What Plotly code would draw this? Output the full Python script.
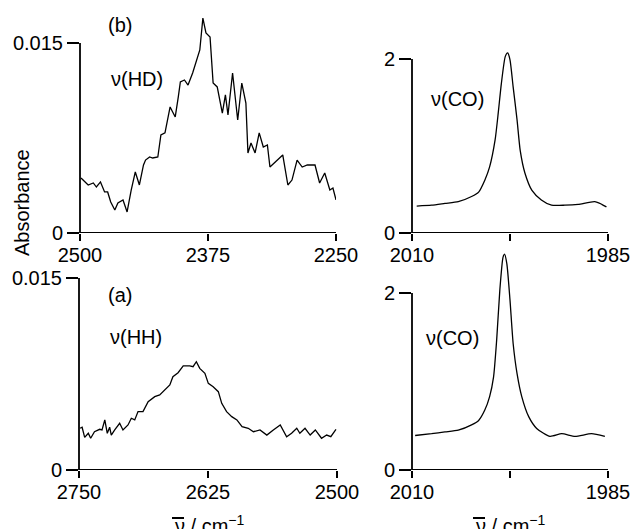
import plotly.graph_objects as go

# ---------------- data ----------------
# (b) nu(HD) spectrum, top-left
hd_wn = [2499, 2497, 2492, 2487, 2484, 2480, 2476, 2473, 2470, 2466, 2463, 2458, 2454,
         2450, 2446, 2442, 2438, 2436, 2432, 2429, 2424, 2421, 2417, 2412, 2407, 2404,
         2402, 2398, 2394.5, 2390, 2387, 2383, 2380, 2377, 2373, 2370, 2366, 2361, 2358,
         2355.5, 2351, 2346, 2342, 2338, 2336, 2333, 2329, 2325, 2321, 2317, 2314.5,
         2310, 2302, 2297, 2293, 2288, 2283, 2278, 2273, 2270.5, 2266, 2261, 2256, 2253, 2250]
hd_abs = [0.00434, 0.00418, 0.00379, 0.00395, 0.00363, 0.00403, 0.00324, 0.00324, 0.00245,
          0.00182, 0.00237, 0.00261, 0.00166, 0.00339, 0.00482, 0.00379, 0.00537, 0.00576,
          0.00600, 0.00592, 0.00600, 0.00774, 0.00790, 0.00995, 0.00916, 0.01074, 0.01192,
          0.01208, 0.01168, 0.01263, 0.01342, 0.01445, 0.01697, 0.01579, 0.01547, 0.01184,
          0.01153, 0.00947, 0.01090, 0.00932, 0.01263, 0.00892, 0.01184, 0.01026, 0.00632,
          0.00711, 0.00632, 0.00790, 0.00679, 0.00695, 0.00521, 0.00553, 0.00616, 0.00379,
          0.00418, 0.00576, 0.00521, 0.00537, 0.00537, 0.00537, 0.00395, 0.00474, 0.00339,
          0.00355, 0.00261]

# (a) nu(HH) spectrum, bottom-left
hh_wn = [2749, 2747, 2744.5, 2741, 2738.7, 2735, 2730, 2727.7, 2725, 2722.6, 2720.3, 2718.7,
         2715.4, 2710.6, 2707.4, 2702.5, 2699.3, 2696, 2692.8, 2688, 2683, 2676.6, 2671.8,
         2667, 2662, 2659, 2654, 2649, 2642.7, 2639.5, 2636.3, 2633, 2628, 2624.7, 2620,
         2615, 2611.7, 2607, 2602, 2597, 2592, 2586, 2581, 2574.6, 2568, 2561.7, 2555,
         2548.8, 2544, 2539, 2536, 2531, 2526, 2521, 2515, 2510, 2506, 2501]
hh_abs = [0.00326, 0.00334, 0.00255, 0.00287, 0.00248, 0.00299, 0.00318, 0.00313, 0.00391,
          0.00287, 0.00334, 0.00273, 0.00313, 0.00365, 0.00313, 0.00352, 0.00404, 0.00391,
          0.00456, 0.00456, 0.00534, 0.00573, 0.00586, 0.00625, 0.00664, 0.00729, 0.00760,
          0.00813, 0.00813, 0.00807, 0.00846, 0.00794, 0.00755, 0.00677, 0.00651, 0.00612,
          0.00521, 0.00456, 0.00417, 0.00391, 0.00339, 0.00326, 0.00299, 0.00313, 0.00273,
          0.00313, 0.00352, 0.00260, 0.00287, 0.00326, 0.00287, 0.00326, 0.00273, 0.00313,
          0.00248, 0.00273, 0.00260, 0.00318]

# nu(CO) spectra, right column (top = b, bottom = a)
co_b_wn = [2009.4, 2007.5, 2005.8, 2004.1, 2002.4, 2001.5, 2000.7, 2000.1, 1999.4, 1999.0,
           1998.6, 1998.1, 1997.8, 1997.5, 1997.1, 1996.6, 1996.2, 1995.6, 1994.7, 1993.5,
           1992.2, 1990.5, 1988.8, 1986.7, 1985.8, 1985.2]
co_b_abs = [0.31, 0.32, 0.34, 0.36, 0.42, 0.47, 0.61, 0.76, 1.07, 1.38, 1.72, 2.03, 2.07,
            1.99, 1.68, 1.30, 0.95, 0.69, 0.49, 0.38, 0.32, 0.32, 0.33, 0.36, 0.33, 0.30]

co_a_wn = [2009.6, 2007.5, 2005.8, 2004.1, 2002.4, 2001.5, 2000.7, 2000.1, 1999.6, 1999.2,
           1998.8, 1998.4, 1998.2, 1997.9, 1997.5, 1997.1, 1996.6, 1996.0, 1995.1, 1994.1,
           1992.4, 1990.9, 1989.2, 1987.1, 1985.4]
co_a_abs = [0.39, 0.41, 0.43, 0.45, 0.51, 0.56, 0.68, 0.83, 1.05, 1.47, 2.03, 2.40, 2.44,
            2.33, 1.92, 1.43, 1.09, 0.83, 0.60, 0.47, 0.38, 0.41, 0.38, 0.41, 0.38]

# ticks
hd_xticks = [2500, 2375, 2250]
hh_xticks = [2750, 2625, 2500]
co_xticks = [2010, 1997.5, 1985]
co_xticktext = ["2010", " ", "1985"]
ir_yticks = [0, 0.015]
ir_yticktext = ["0", "0.015"]
co_yticks = [0, 2]
co_yticktext = ["0", "2"]

W, H = 635, 529
FONT = "Liberation Sans, Arial, Helvetica, sans-serif"


def px_x(a, b):
    return [a / W, b / W]


def px_y(top, bottom):
    return [1 - bottom / H, 1 - top / H]


fig = go.Figure()

panels = [
    ("x", "y", hd_wn, hd_abs, hd_xticks, [str(v) for v in hd_xticks], ir_yticks, ir_yticktext,
     px_x(80, 336), px_y(10, 233), 0.015 * 223 / 190, "linear"),
    ("x2", "y2", co_b_wn, co_b_abs, co_xticks, co_xticktext, co_yticks, co_yticktext,
     px_x(412, 608), px_y(10, 233), 2 * 223 / 174, "spline"),
    ("x3", "y3", hh_wn, hh_abs, hh_xticks, [str(v) for v in hh_xticks], ir_yticks, ir_yticktext,
     px_x(79, 337), px_y(250, 470), 0.015 * 220 / 192, "linear"),
    ("x4", "y4", co_a_wn, co_a_abs, co_xticks, co_xticktext, co_yticks, co_yticktext,
     px_x(412, 608), px_y(250, 470), 2 * 220 / 177, "spline"),
]

shapes = []
for i, (xa, ya, wn, ab, xt, xtt, yt, ytt, xdom, ydom, ymax, lshape) in enumerate(panels):
    line = dict(color="black", width=1.3, shape=lshape)
    if lshape == "spline":
        line["smoothing"] = 0.6
    fig.add_trace(go.Scatter(x=wn, y=ab, mode="lines", xaxis=xa, yaxis=ya,
                             line=line, showlegend=False, hoverinfo="skip"))
    n = "" if i == 0 else str(i + 1)
    fig.layout["xaxis" + n] = dict(
        domain=xdom, anchor=ya, range=[xt[0], xt[-1]], tickvals=xt, ticktext=xtt,
        ticks="outside", ticklen=7, tickwidth=1.5, tickcolor="black",
        ticklabelstandoff=-3,
        showgrid=False, zeroline=False, showline=False, automargin=False,
        tickfont=dict(family=FONT, size=20, color="black"))
    fig.layout["yaxis" + n] = dict(
        domain=ydom, anchor=xa, range=[0, ymax], tickvals=yt, ticktext=ytt,
        ticks="outside", ticklen=12, tickwidth=1.5, tickcolor="black",
        showgrid=False, zeroline=False, showline=False, automargin=False,
        tickfont=dict(family=FONT, size=20, color="black"))
    shapes.append(dict(type="line", xref=xa + " domain", yref=ya, x0=0, x1=0,
                       y0=yt[0], y1=yt[-1], line=dict(color="black", width=1.8)))
    shapes.append(dict(type="line", xref=xa, yref=ya, x0=xt[0], x1=xt[-1],
                       y0=yt[0], y1=yt[0], line=dict(color="black", width=1.8)))


def ann(text, x, y, **kw):
    d = dict(text=text, x=x / W, y=1 - y / H, xref="paper", yref="paper",
             xanchor="center", yanchor="middle",
             showarrow=False, font=dict(family=FONT, size=20, color="black"))
    d.update(kw)
    return d


annotations = [
    ann("(b)", 120, 25),
    ann("ν(HD)", 137, 79),
    ann("(a)", 120, 295),
    ann("ν(HH)", 136, 337),
    ann("ν(CO)", 457, 99),
    ann("ν(CO)", 452, 338),
    ann("Absorbance", 22, 203, textangle=-90),
]
# x-axis titles: "ν̄ / cm⁻¹" (overbar drawn as a small line above the ν)
for cx in (210, 511):
    annotations.append(ann("ν / cm<sup>−1</sup>", cx, 524))
    shapes.append(dict(type="line", xref="paper", yref="paper",
                       x0=(cx - 38) / W, x1=(cx - 26) / W,
                       y0=1 - 518 / H, y1=1 - 518 / H,
                       line=dict(color="black", width=2)))

fig.update_layout(
    width=W, height=H,
    margin=dict(l=0, r=0, t=0, b=0, autoexpand=False),
    paper_bgcolor="white", plot_bgcolor="white",
    annotations=annotations, shapes=shapes,
    showlegend=False,
)

fig.write_html("out.html", config={"displayModeBar": False},
               post_script="document.body.style.margin='0';document.body.style.overflow='hidden';")
